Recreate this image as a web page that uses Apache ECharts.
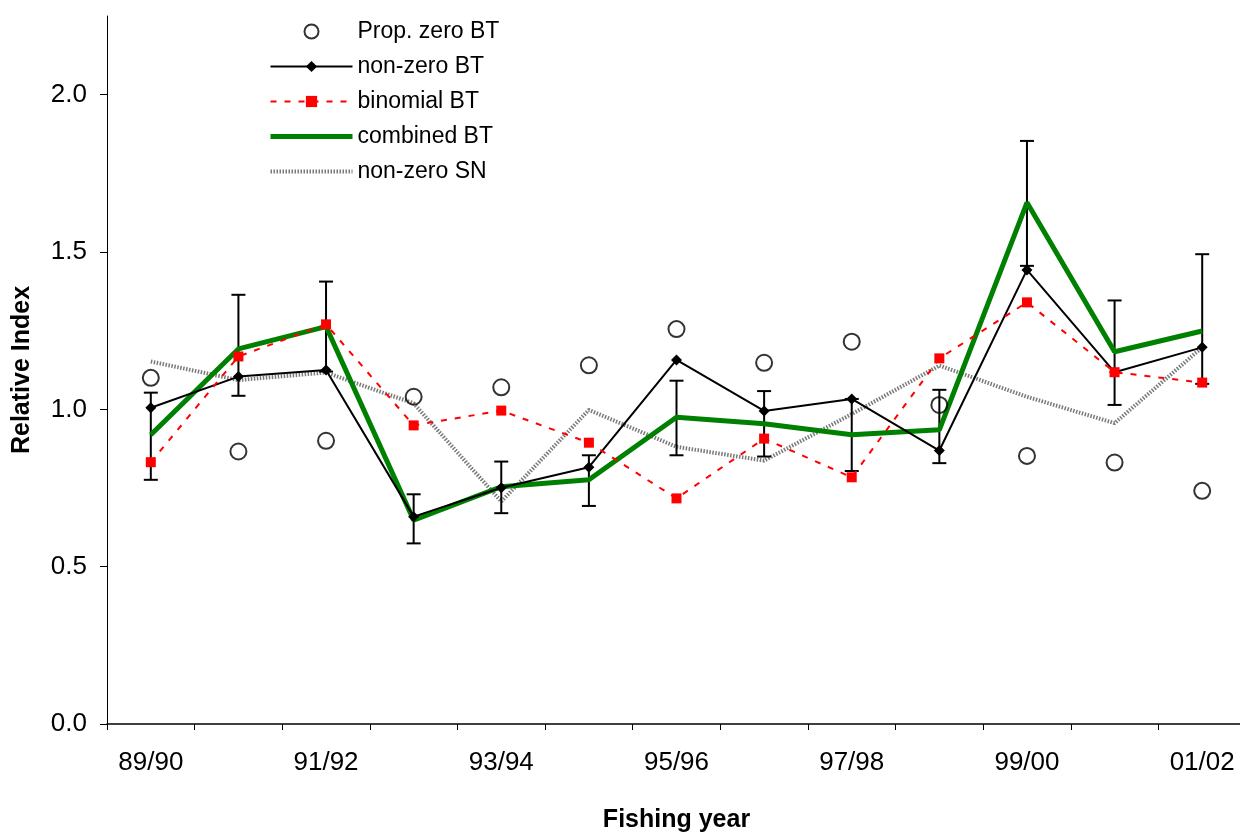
<!DOCTYPE html>
<html>
<head>
<meta charset="utf-8">
<script src="https://cdn.jsdelivr.net/npm/echarts@6/dist/echarts.min.js"></script>
<style>html,body{margin:0;padding:0;background:#fff}#chart{width:1240px;height:833px}</style>
</head>
<body>
<div id="chart"></div>
<script>
const categories = ['89/90','90/91','91/92','92/93','93/94','94/95','95/96','96/97','97/98','98/99','99/00','00/01','01/02'];
const propZeroBT = [1.10,0.866,0.90,1.04,1.07,1.14,1.255,1.148,1.215,1.014,0.852,0.831,0.741];
const nonZeroBT = [1.005,1.104,1.125,0.659,0.751,0.816,1.157,0.995,1.033,0.869,1.443,1.118,1.197];
const binomialBT = [0.832,1.168,1.270,0.949,0.996,0.894,0.717,0.907,0.784,1.162,1.340,1.118,1.085];
const combinedBT = [0.919,1.192,1.263,0.648,0.754,0.776,0.975,0.954,0.919,0.935,1.657,1.183,1.249];
const nonZeroSN = [1.152,1.093,1.117,1.019,0.707,0.998,0.881,0.837,0.985,1.139,1.040,0.956,1.197];
const ciLower = [0.776,1.043,1.12,0.574,0.670,0.693,0.854,0.850,0.804,0.829,1.456,1.014,1.081];
const ciUpper = [1.053,1.364,1.406,0.730,0.834,0.854,1.091,1.058,1.033,1.062,1.853,1.346,1.493];
const yTicks = [0, 0.5, 1.0, 1.5, 2.0];

const FONT = 'Liberation Sans, Arial, sans-serif';
const chart = echarts.init(document.getElementById('chart'));
const ciData = categories.map((c, i) => [i, ciLower[i], ciUpper[i]]);

chart.setOption({
  animation: false,
  backgroundColor: '#fff',
  grid: { left: 107, top: 16, width: 1139, bottom: 109, containLabel: false, outerBoundsMode: 'none' },
  legend: {
    data: [
      { name: 'Prop. zero BT', itemStyle: { borderWidth: 2, borderColor: '#000' } },
      { name: 'non-zero BT' },
      { name: 'binomial BT' },
      { name: 'combined BT', itemStyle: { opacity: 0 }, lineStyle: { width: 5 } },
      { name: 'non-zero SN', itemStyle: { opacity: 0 }, lineStyle: { width: 4 } }
    ],
    orient: 'vertical', left: 268, top: 20, padding: 0, itemWidth: 82, itemHeight: 14, itemGap: 12,
    textStyle: { fontFamily: FONT, fontSize: 23, color: '#000' },
    selectedMode: false
  },
  xAxis: {
    type: 'category', data: categories, boundaryGap: true,
    name: 'Fishing year', nameLocation: 'middle', nameGap: 84,
    nameTextStyle: { fontFamily: FONT, fontSize: 25, fontWeight: 'bold', color: '#000' },
    axisLine: { lineStyle: { color: '#000', width: 1.5 } },
    axisTick: { show: true, length: 6, lineStyle: { color: '#000' }, interval: 0 },
    axisLabel: { interval: 1, fontFamily: FONT, fontSize: 26, color: '#000', margin: 26 },
    splitLine: { show: false }
  },
  yAxis: {
    type: 'value', min: 0, max: 2.25, interval: 0.5,
    name: 'Relative Index', nameLocation: 'middle', nameGap: 72, nameRotate: 90,
    nameTextStyle: { fontFamily: FONT, fontSize: 25, fontWeight: 'bold', color: '#000' },
    axisLine: { show: true, lineStyle: { color: '#000', width: 1 } },
    axisTick: { show: true, length: 7, lineStyle: { color: '#000' }, customValues: yTicks },
    axisLabel: { fontFamily: FONT, fontSize: 26, color: '#000', margin: 20, customValues: yTicks,
      formatter: v => v.toFixed(1) },
    splitLine: { show: false }
  },
  series: [
    {
      name: 'CI', type: 'custom', data: ciData, z: 3,
      encode: { x: 0, y: [1, 2] },
      renderItem: function (params, api) {
        const x = api.value(0);
        const pLo = api.coord([x, api.value(1)]);
        const pHi = api.coord([x, api.value(2)]);
        const hw = 7;
        const st = { stroke: '#000', lineWidth: 2 };
        return { type: 'group', children: [
          { type: 'line', shape: { x1: pLo[0], y1: pLo[1], x2: pHi[0], y2: pHi[1] }, style: st },
          { type: 'line', shape: { x1: pLo[0]-hw, y1: pLo[1], x2: pLo[0]+hw, y2: pLo[1] }, style: st },
          { type: 'line', shape: { x1: pHi[0]-hw, y1: pHi[1], x2: pHi[0]+hw, y2: pHi[1] }, style: st }
        ]};
      }
    },
    {
      name: 'non-zero SN', type: 'line', data: nonZeroSN, symbol: 'none', z: 2,
      lineStyle: { color: '#7a7a7a', width: 4, type: [1.5, 1.5] },
      itemStyle: { color: '#7a7a7a' }
    },
    {
      name: 'combined BT', type: 'line', data: combinedBT, symbol: 'none', z: 3,
      lineStyle: { color: '#008000', width: 5 },
      itemStyle: { color: '#008000' }
    },
    {
      name: 'non-zero BT', type: 'line', data: nonZeroBT, symbol: 'diamond', symbolSize: 11, z: 4,
      lineStyle: { color: '#000', width: 2 },
      itemStyle: { color: '#000' }
    },
    {
      name: 'binomial BT', type: 'line', data: binomialBT, symbol: 'rect', symbolSize: 10, z: 5,
      lineStyle: { color: '#ff0000', width: 2, type: [6, 8] },
      itemStyle: { color: '#ff0000' }
    },
    {
      name: 'Prop. zero BT', type: 'scatter', data: propZeroBT, symbol: 'circle', symbolSize: 16, z: 6,
      itemStyle: { color: 'rgba(255,255,255,0)', borderColor: '#000', borderWidth: 2 }
    }
  ]
});
</script>
</body>
</html>
